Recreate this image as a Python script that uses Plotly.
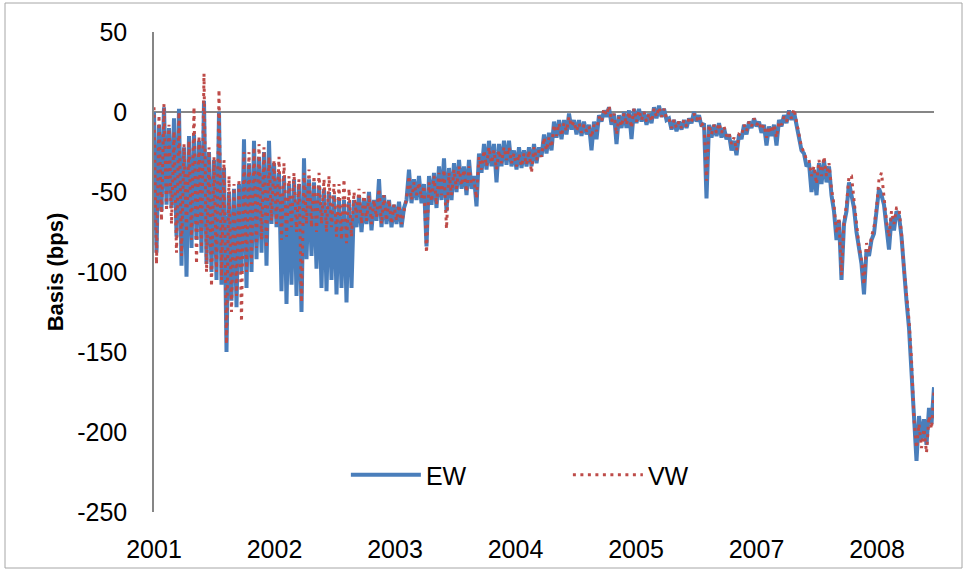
import plotly.graph_objects as go

# Tick labels of the category-like time axis (one label every ~48.2 observations)
year_labels = ["2001", "2002", "2003", "2004", "2005", "2007", "2008"]
label_step = 48.2
y_ticks = [50, 0, -50, -100, -150, -200, -250]
y_tick_text = ["50", "0", "-50", "-100", "-150", "-200", "-250"]

# EW basis (bps)
ew = [
    0, -88, -8, -62, 3, -58, -10, -60, -4, -78,
    2, -96, -22, -103, -15, -85, -14, -80, -18, -88,
    7, -95, -25, -100, -30, -105, 0, -108, -35, -150,
    -50, -118, -48, -122, -45, -100, -17, -110, -32, -100,
    -18, -92, -28, -88, -25, -96, -18, -70, -32, -72,
    -38, -112, -40, -120, -45, -108, -42, -115, -45, -125,
    -29, -92, -42, -90, -44, -98, -46, -110, -48, -112,
    -50, -105, -52, -114, -55, -110, -55, -119, -56, -110,
    -55,
    -72, -52, -75, -55, -70, -50, -74, -55, -68, -42,
    -72, -52, -70, -55, -72, -58, -70, -56, -72, -60,
    -55, -36, -57, -42, -55, -40, -57, -45, -84, -40,
    -58, -38, -60, -34, -55, -29, -62, -35, -55, -32,
    -50, -30, -48, -34, -52, -30, -48, -40, -59, -26,
    -38, -20, -36, -18, -34, -20, -44, -20, -34, -18,
    -33, -18, -34, -24, -36, -22, -35, -24, -34, -22,
    -34, -20, -32, -22, -28, -14, -26, -13, -24, -6,
    -16, -5, -17, -5, -14, -1, -11, -5, -14, -5,
    -15, -6, -14, -8, -24, -6, -17, -2, -6, 1,
    -3, 3, -8, -1, -20, -2, -10, 0, -10, 1,
    -17, 2, -7, 2, -6, 0, -8, -1, -7, 3,
    -4, 4, -3, 2, -5, -4, -11, -5, -12, -6,
    -11, -5, -10, -4, -7, 0, -6, -2, -9, -7,
    -54, -8, -16, -8, -15, -7, -16, -10, -17, -14,
    -24, -18, -27, -14, -17, -8, -14, -6, -10, -4,
    -9, -6, -13, -8, -21, -9, -15, -8, -21, -5,
    -9, -2, -7, 1, -5, 0, -8, -18, -24, -26,
    -34, -32, -50, -36, -52, -32, -45, -30, -44, -34,
    -52, -62, -80, -68, -105, -70, -62, -44, -52, -60,
    -75, -86, -95, -114, -86, -90, -80, -76, -62, -48,
    -52, -58, -72, -86, -66, -74, -62, -65, -78, -100,
    -118, -135, -160, -195, -218, -190, -205, -192, -208, -185,
    -195, -172,
]

# VW basis (bps)
vw = [
    3, -95, -2, -68, 5, -62, -8, -70, -12, -88,
    0, -90, -20, -75, -18, -80, 3, -95, -15, -85,
    24, -100, -22, -109, -28, -100, 14, -105, -30, -145,
    -40, -125, -45, -115, -42, -131, -25, -100, -25, -95,
    -22, -85, -20, -80, -22, -85, -28, -68, -30, -70,
    -28, -80, -32, -78, -40, -72, -38, -75, -42, -119,
    -38, -70, -36, -72, -40, -75, -38, -70, -42, -75,
    -40, -72, -45, -78, -45, -80, -42, -82, -48, -78,
    -50,
    -66, -48, -70, -50, -68, -52, -70, -55, -66, -48,
    -70, -52, -68, -55, -70, -58, -68, -58, -70, -62,
    -54, -40, -55, -44, -52, -44, -54, -46, -88, -44,
    -56, -40, -58, -38, -52, -36, -73, -38, -52, -36,
    -48, -34, -46, -36, -50, -34, -45, -42, -54, -28,
    -36, -24, -34, -22, -32, -24, -36, -24, -32, -22,
    -30, -22, -32, -26, -34, -26, -34, -26, -33, -24,
    -38, -22, -30, -24, -28, -16, -24, -16, -22, -8,
    -15, -7, -15, -7, -12, -3, -9, -6, -12, -7,
    -13, -8, -12, -9, -16, -8, -12, -3, -6, 2,
    -2, 4, -6, -1, -14, -3, -9, -1, -8, 0,
    -10, 2, -6, 1, -5, 0, -6, -1, -6, 2,
    -3, 3, -3, 2, -4, -4, -10, -5, -10, -6,
    -10, -5, -9, -4, -6, -1, -5, -2, -8, -7,
    -43, -8, -14, -8, -13, -7, -13, -9, -15, -13,
    -20, -16, -24, -14, -15, -8, -12, -6, -9, -4,
    -8, -6, -11, -8, -16, -9, -13, -8, -16, -6,
    -8, -3, -6, 0, -4, 2, -6, -14, -22, -25,
    -30, -30, -40, -34, -45, -30, -40, -28, -40, -32,
    -48, -58, -76, -66, -102, -68, -58, -40, -40, -55,
    -72, -84, -92, -108, -82, -88, -78, -72, -60, -42,
    -38, -55, -68, -78, -62, -70, -60, -60, -76, -98,
    -112, -130, -155, -192, -210, -195, -210, -198, -213, -190,
    -198, -175,
]

obs = list(range(len(ew)))
tick_pos = [k * label_step for k in range(len(year_labels))]

FONT = "Liberation Sans, Arial, sans-serif"
TICK_SIZE = 25

fig = go.Figure()
fig.add_trace(go.Scatter(
    x=obs, y=ew, name="EW", mode="lines",
    line=dict(color="#4A7EBB", width=4),
))
fig.add_trace(go.Scatter(
    x=obs, y=vw, name="VW", mode="lines",
    line=dict(color="#BE4B48", width=3, dash="3px,4.5px"),
))

fig.update_layout(
    width=967, height=571,
    margin=dict(l=154, r=33, t=32, b=59),
    paper_bgcolor="white", plot_bgcolor="white",
    font=dict(family=FONT, size=TICK_SIZE, color="black"),
    showlegend=True,
    legend=dict(
        orientation="h", x=0.246, y=0.077, xanchor="left", yanchor="middle",
        bgcolor="rgba(0,0,0,0)", entrywidth=137, entrywidthmode="pixels",
        itemwidth=70, font=dict(family=FONT, size=TICK_SIZE, color="black"),
    ),
    xaxis=dict(
        range=[0, len(ew) - 1], showgrid=False, zeroline=False, showline=False,
        tickmode="array", tickvals=tick_pos, ticktext=year_labels,
        ticks="", ticklabelstandoff=20, automargin=False,
        tickfont=dict(family=FONT, size=TICK_SIZE, color="black"),
    ),
    yaxis=dict(
        range=[-250, 50], showgrid=False,
        tickmode="array", tickvals=y_ticks, ticktext=y_tick_text,
        zeroline=True, zerolinecolor="#868686", zerolinewidth=1.5,
        showline=True, linecolor="#868686", linewidth=1.5,
        ticks="", ticklabelstandoff=20, automargin=False,
        tickfont=dict(family=FONT, size=TICK_SIZE, color="black"),
        title=dict(text="<b>Basis (bps)</b>", standoff=8,
                   font=dict(family=FONT, size=22, color="black")),
    ),
    shapes=[dict(
        type="rect", xref="paper", yref="paper",
        x0=(5 - 154) / 780, x1=(962 - 154) / 780,
        y0=(512 - 568) / 480, y1=(512 - 3) / 480,
        line=dict(color="#A6A6A6", width=1), fillcolor="rgba(0,0,0,0)",
        layer="below",
    )],
)

fig.write_html(
    "out.html",
    config={"displayModeBar": False},
    post_script="document.body.style.margin='0';document.body.style.overflow='hidden';",
)
